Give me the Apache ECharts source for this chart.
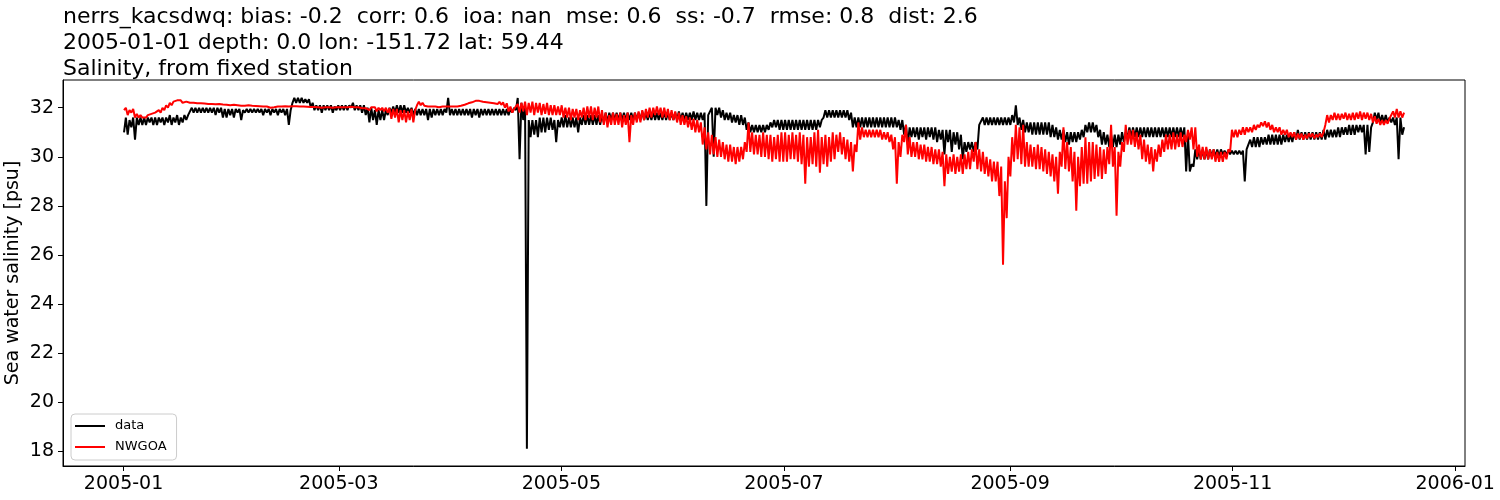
<!DOCTYPE html>
<html>
<head>
<meta charset="utf-8">
<script src="https://cdn.jsdelivr.net/npm/echarts@6/dist/echarts.min.js"></script>
<style>
html,body{margin:0;padding:0;background:#fff;}
#chart{width:1500px;height:500px;}
</style>
</head>
<body>
<div id="chart"></div>
<script>
// ---- data: per-sample-period [low, high] of each record ----
// samples are evenly spread between the first and last observation time
const firstTime = '2005-01-01T03:00:00Z';
const lastTime  = '2005-12-18T00:00:00Z';

const seriesNames = ['data', 'NWGOA'];

// observed salinity (black), daily low/high
const obsRange = [
[31.0,31.6],[30.9,31.5],[31.2,31.6],[30.7,31.6],[31.3,31.6],[31.3,31.6],[31.3,31.6],[31.4,31.6],[31.3,31.6],[31.3,31.6],
[31.4,31.6],[31.3,31.6],[31.4,31.7],[31.3,31.6],[31.4,31.7],[31.3,31.6],[31.4,31.7],[31.5,31.7],[31.7,32.0],[31.8,32.0],
[31.8,32.0],[31.8,32.0],[31.8,32.0],[31.8,32.0],[31.8,32.0],[31.7,32.0],[31.8,32.0],[31.6,31.95],[31.6,31.95],[31.7,31.95],
[31.6,31.95],[31.8,31.95],[31.5,31.9],[31.8,31.95],[31.8,31.95],[31.8,31.95],[31.8,31.95],[31.8,31.95],[31.7,31.95],[31.8,31.95],
[31.7,31.95],[31.8,31.95],[31.7,31.95],[31.8,31.95],[31.7,31.95],[31.3,31.9],[32.2,32.4],[32.2,32.4],[32.2,32.4],[32.2,32.35],
[32.2,32.35],[32.0,32.2],[31.9,32.1],[31.9,32.1],[31.8,32.1],[31.9,32.1],[31.9,32.1],[31.8,32.05],[31.9,32.1],[31.9,32.1],
[31.9,32.1],[31.9,32.1],[32.0,32.2],[31.9,32.1],[31.9,32.1],[31.8,32.1],[31.7,32.0],[31.4,32.0],[31.5,31.9],[31.3,31.9],
[31.5,31.9],[31.5,31.9],[31.7,32.0],[31.8,32.05],[31.8,32.1],[31.8,32.1],[31.8,32.1],[31.8,32.0],[31.8,32.0],[31.7,31.95],
[31.7,31.95],[31.7,31.95],[31.7,31.95],[31.5,31.95],[31.6,31.95],[31.7,31.95],[31.7,31.95],[31.7,31.95],[31.8,32.4],[31.7,31.95],
[31.7,31.95],[31.7,31.95],[31.7,31.95],[31.7,31.95],[31.7,31.95],[31.6,31.95],[31.7,31.95],[31.6,31.95],[31.7,31.95],[31.7,31.95],
[31.7,31.95],[31.7,31.95],[31.7,31.95],[31.7,31.95],[31.7,31.95],[31.7,31.95],[31.8,32.0],[31.9,32.4],[29.9,32.2],[31.5,32.0],
[18.1,31.5],[30.8,31.5],[30.9,31.5],[30.8,31.6],[31.0,31.6],[31.0,31.6],[31.1,31.6],[31.1,31.5],[30.6,31.5],[31.2,31.6],
[31.2,31.7],[31.2,31.6],[31.2,31.6],[31.2,31.6],[31.0,31.6],[31.3,31.7],[31.3,31.7],[31.3,31.7],[31.3,31.7],[31.3,31.7],
[31.3,31.7],[31.4,31.8],[31.4,31.8],[31.5,31.8],[31.5,31.8],[31.5,31.8],[31.5,31.8],[31.5,31.8],[31.5,31.8],[31.5,31.8],
[31.5,31.8],[31.5,31.85],[31.5,31.8],[31.5,31.8],[31.5,31.85],[31.5,31.8],[31.5,31.8],[31.5,31.85],[31.5,31.8],[31.5,31.8],
[31.5,31.8],[31.5,31.85],[31.5,31.8],[31.5,31.8],[31.5,31.8],[31.5,31.85],[31.5,31.8],[31.5,31.8],[31.5,31.8],[28.0,31.7],
[31.7,32.0],[30.0,32.0],[31.7,32.0],[31.6,31.9],[31.5,31.8],[31.5,31.8],[31.4,31.7],[31.4,31.7],[31.3,31.7],[31.3,31.6],
[31.1,31.4],[31.0,31.3],[31.0,31.3],[31.0,31.3],[31.0,31.3],[31.0,31.3],[31.1,31.4],[31.2,31.5],[31.2,31.5],[31.1,31.5],
[31.1,31.5],[31.1,31.5],[31.1,31.5],[31.1,31.5],[31.1,31.5],[31.1,31.5],[31.1,31.5],[31.1,31.5],[31.1,31.5],[31.1,31.5],
[31.2,31.5],[31.6,31.9],[31.6,31.9],[31.6,31.9],[31.6,31.9],[31.6,31.9],[31.6,31.9],[31.6,31.9],[31.5,31.8],[31.2,31.6],
[31.2,31.6],[31.2,31.6],[31.2,31.6],[31.2,31.6],[31.2,31.6],[31.2,31.6],[31.2,31.6],[31.2,31.6],[31.2,31.6],[31.2,31.6],
[31.2,31.6],[31.2,31.5],[31.1,31.5],[30.9,31.3],[30.5,31.2],[30.8,31.2],[30.8,31.2],[30.7,31.2],[30.8,31.2],[30.7,31.2],
[30.8,31.2],[30.7,31.2],[30.6,31.1],[30.7,31.1],[30.1,31.1],[30.6,31.1],[30.2,31.0],[30.5,31.0],[30.3,30.9],[29.9,30.6],
[30.2,30.6],[30.3,30.6],[30.2,30.6],[30.3,31.3],[31.3,31.6],[31.3,31.6],[31.3,31.6],[31.3,31.6],[31.3,31.6],[31.3,31.6],
[31.3,31.6],[31.3,31.6],[31.3,31.7],[31.4,32.1],[31.3,31.6],[31.1,31.5],[31.0,31.4],[31.0,31.4],[30.9,31.4],[30.9,31.4],
[30.9,31.4],[30.9,31.4],[30.9,31.4],[30.8,31.3],[30.8,31.2],[30.7,31.1],[30.7,31.1],[30.6,31.0],[30.5,31.0],[30.6,31.0],
[30.6,31.0],[30.7,31.1],[30.8,31.3],[31.0,31.4],[31.0,31.4],[31.0,31.3],[30.8,31.1],[30.5,31.0],[30.5,30.9],[30.4,30.9],
[30.4,30.9],[30.4,30.9],[30.5,31.0],[30.6,31.0],[30.8,31.2],[30.8,31.2],[30.8,31.2],[30.8,31.2],[30.8,31.2],[30.8,31.2],
[30.8,31.2],[30.8,31.2],[30.8,31.2],[30.8,31.2],[30.8,31.2],[30.8,31.2],[30.8,31.2],[30.8,31.2],[30.8,31.2],[30.8,31.2],
[29.4,30.9],[29.4,29.7],[29.6,30.3],[29.9,30.3],[29.9,30.3],[29.9,30.3],[29.9,30.3],[30.0,30.3],[30.0,30.3],[30.0,30.3],
[30.1,30.25],[30.1,30.25],[30.1,30.25],[30.1,30.25],[30.1,30.25],[30.1,30.25],[29.0,30.3],[30.3,30.7],[30.4,30.8],[30.4,30.8],
[30.4,30.8],[30.5,30.8],[30.5,30.9],[30.5,30.9],[30.5,30.9],[30.5,30.9],[30.5,30.9],[30.6,30.9],[30.6,30.9],[30.6,31.0],
[30.7,31.1],[30.7,31.0],[30.7,31.0],[30.7,31.0],[30.7,31.0],[30.7,31.0],[30.7,31.0],[30.7,31.1],[30.7,31.1],[30.8,31.1],
[30.8,31.1],[30.8,31.2],[30.8,31.2],[30.9,31.2],[30.9,31.3],[30.9,31.3],[30.9,31.3],[31.0,31.3],[31.0,31.3],[30.1,31.3],
[30.2,31.2],[31.4,31.8],[31.5,31.8],[31.4,31.7],[31.4,31.7],[31.4,31.6],[31.4,31.6],[31.3,31.6],[29.9,31.6],[30.9,31.2]
];

// model salinity NWGOA (red), daily low/high
const modelRange = [
[31.9,32.0],[31.7,31.9],[31.8,31.95],[31.6,31.75],[31.6,31.7],[31.6,31.65],[31.6,31.7],[31.65,31.75],[31.7,31.8],[31.75,31.9],
[31.8,32.0],[31.9,32.1],[32.0,32.2],[32.1,32.25],[32.25,32.3],[32.25,32.3],[32.2,32.25],[32.25,32.3],[32.2,32.25],[32.2,32.25],
[32.18,32.22],[32.18,32.22],[32.17,32.21],[32.15,32.19],[32.15,32.2],[32.14,32.18],[32.15,32.19],[32.13,32.17],[32.12,32.16],[32.1,32.14],
[32.12,32.16],[32.1,32.14],[32.08,32.12],[32.08,32.12],[32.1,32.14],[32.08,32.12],[32.07,32.11],[32.06,32.1],[32.05,32.09],[32.05,32.09],
[32.0,32.05],[32.02,32.06],[32.05,32.09],[32.05,32.1],[32.06,32.1],[32.05,32.09],[32.06,32.1],[32.06,32.1],[32.05,32.09],[32.05,32.09],
[32.04,32.08],[32.03,32.07],[32.03,32.07],[32.02,32.06],[32.0,32.05],[32.02,32.06],[32.02,32.06],[32.0,32.04],[32.02,32.06],[32.02,32.06],
[32.02,32.06],[32.02,32.06],[32.04,32.08],[32.02,32.06],[32.02,32.06],[31.98,32.04],[31.98,32.04],[31.9,32.02],[31.95,32.02],[31.85,32.0],
[31.9,32.0],[31.85,32.0],[31.8,31.98],[31.55,31.95],[31.6,31.95],[31.4,31.9],[31.5,31.9],[31.4,31.85],[31.5,31.95],[31.4,31.9],
[32.1,32.25],[32.1,32.2],[32.08,32.15],[32.05,32.12],[32.05,32.12],[32.05,32.12],[32.02,32.1],[32.05,32.12],[32.05,32.12],[32.05,32.12],
[32.05,32.12],[32.05,32.12],[32.08,32.16],[32.12,32.2],[32.18,32.26],[32.22,32.3],[32.28,32.36],[32.28,32.36],[32.24,32.32],[32.22,32.3],
[32.2,32.28],[32.18,32.26],[32.15,32.24],[32.12,32.22],[32.0,32.18],[31.85,32.05],[31.8,31.95],[31.9,32.15],[31.8,32.2],[31.85,32.25],
[31.7,32.2],[31.8,32.25],[31.7,32.2],[31.8,32.2],[31.7,32.15],[31.75,32.2],[31.7,32.1],[31.7,32.1],[31.7,32.05],[31.7,32.1],
[31.6,32.0],[31.6,32.0],[31.5,31.95],[31.6,31.95],[31.5,31.9],[31.6,32.0],[31.5,32.05],[31.6,32.05],[31.5,32.0],[31.6,32.05],
[31.4,31.9],[31.3,31.8],[31.2,31.7],[31.3,31.8],[31.3,31.75],[31.3,31.8],[31.2,31.7],[31.3,31.8],[30.6,31.7],[31.3,31.8],
[31.4,31.85],[31.4,31.9],[31.5,31.95],[31.6,32.0],[31.6,32.0],[31.7,32.05],[31.7,32.0],[31.6,32.0],[31.6,31.95],[31.5,31.9],
[31.5,31.85],[31.4,31.8],[31.3,31.7],[31.3,31.65],[31.2,31.6],[31.1,31.55],[31.0,31.5],[31.0,31.4],[30.5,31.2],[30.3,31.0],
[30.1,30.9],[30.1,30.8],[30.0,30.7],[30.0,30.6],[29.9,30.5],[29.8,30.5],[29.8,30.4],[29.7,30.4],[29.8,30.4],[29.9,30.6],
[30.2,31.4],[30.2,31.0],[30.1,30.9],[30.1,30.9],[30.0,31.0],[30.0,30.9],[29.9,30.9],[29.8,30.8],[29.9,30.9],[29.8,31.0],
[29.8,31.0],[29.8,30.9],[29.9,31.0],[29.9,30.9],[29.8,31.0],[29.7,30.9],[28.9,30.8],[29.6,30.8],[29.7,31.0],[29.6,31.1],
[29.35,30.8],[29.7,30.9],[29.6,30.8],[29.8,31.0],[29.9,30.9],[30.2,31.0],[30.1,30.8],[29.9,30.7],[29.8,30.6],[29.4,30.5],
[30.2,31.4],[30.7,31.2],[30.8,31.1],[30.8,31.1],[30.8,31.1],[30.8,31.1],[30.8,31.1],[30.7,31.0],[30.7,31.0],[30.6,30.9],
[30.3,30.8],[28.9,30.6],[30.0,30.9],[30.6,31.3],[30.1,30.8],[30.0,30.6],[30.0,30.6],[29.9,30.5],[29.9,30.5],[29.8,30.4],
[29.8,30.4],[29.7,30.3],[29.7,30.3],[29.6,30.2],[28.8,30.1],[29.3,30.0],[29.4,30.1],[29.3,30.0],[29.4,30.1],[29.3,30.1],
[29.5,30.2],[29.5,30.3],[29.8,30.6],[29.5,30.3],[29.4,30.2],[29.3,30.0],[29.2,29.9],[29.0,29.8],[29.0,29.8],[28.4,29.6],
[25.6,29.0],[27.5,30.0],[29.2,30.8],[29.8,31.3],[29.9,31.2],[29.7,31.3],[29.6,30.6],[29.6,30.5],[29.6,30.4],[29.5,30.5],
[29.5,30.4],[29.4,30.3],[29.3,30.2],[29.2,30.1],[29.0,30.0],[28.5,30.2],[29.6,31.2],[29.5,30.6],[29.4,30.4],[29.0,30.2],
[27.8,30.0],[28.8,30.4],[28.9,30.8],[28.9,30.6],[29.0,30.6],[29.1,30.5],[29.2,30.4],[29.1,30.3],[29.3,30.4],[29.7,31.3],
[29.6,30.4],[27.6,30.2],[29.6,30.6],[30.2,31.3],[30.5,31.1],[30.5,31.1],[30.4,31.0],[30.3,30.9],[29.9,30.7],[29.8,30.5],
[29.7,30.4],[29.4,30.3],[29.8,30.5],[30.0,30.7],[30.2,30.9],[30.3,30.9],[30.3,31.0],[30.3,30.9],[30.4,31.0],[30.4,30.9],
[30.6,31.1],[30.7,31.2],[30.3,31.2],[30.0,30.5],[29.9,30.4],[29.9,30.4],[29.9,30.3],[29.9,30.3],[29.8,30.2],[29.8,30.2],
[29.8,30.2],[29.9,30.3],[30.2,31.1],[30.8,31.1],[30.8,31.1],[30.9,31.2],[30.9,31.2],[31.0,31.2],[31.0,31.3],[31.1,31.3],
[31.2,31.4],[31.25,31.45],[31.2,31.4],[31.1,31.3],[31.0,31.2],[31.0,31.2],[30.9,31.1],[30.9,31.1],[30.8,31.0],[30.8,31.0],
[30.7,30.95],[30.75,30.95],[30.7,30.9],[30.75,30.95],[30.8,30.95],[30.75,30.9],[30.8,30.95],[30.8,31.0],[31.3,31.7],[31.4,31.7],
[31.5,31.8],[31.5,31.75],[31.5,31.75],[31.55,31.8],[31.5,31.75],[31.5,31.8],[31.5,31.8],[31.55,31.85],[31.5,31.8],[31.55,31.8],
[31.5,31.75],[31.4,31.65],[31.35,31.55],[31.3,31.5],[31.3,31.5],[31.35,31.55],[31.5,31.85],[31.6,31.95],[31.6,31.85],[31.6,31.8]
];

const xTickLabels = ['2005-01','2005-03','2005-05','2005-07','2005-09','2005-11','2006-01'];
const yTickValues = [18,20,22,24,26,28,30,32];

const titleLines = [
  'nerrs_kacsdwq: bias: -0.2  corr: 0.6  ioa: nan  mse: 0.6  ss: -0.7  rmse: 0.8  dist: 2.6',
  '2005-01-01 depth: 0.0 lon: -151.72 lat: 59.44',
  'Salinity, from fixed station'
];
const yAxisName = 'Sea water salinity [psu]';

// ---- build ----
const DAY = 86400000;
const tFirst = Date.parse(firstTime);
const tLast = Date.parse(lastTime);
const t0 = Date.parse('2005-01-01T00:00:00Z');
// each period contributes its low, then its high half a period later
function toPairs(ranges){
  const n = ranges.length * 2;
  const dt = (tLast - tFirst) / (n - 1);
  const out = [];
  ranges.forEach((r,i)=>{ out.push([tFirst + (2*i)*dt, r[0]]); out.push([tFirst + (2*i+1)*dt, r[1]]); });
  return out;
}
const xTickValues = xTickLabels.map(s => Date.parse(s + '-01T00:00:00Z'));
const labelMap = {};
xTickValues.forEach((v,i)=>{ labelMap[v] = xTickLabels[i]; });

const FONT = 'DejaVu Sans';
const chart = echarts.init(document.getElementById('chart'), null, {renderer:'canvas'});
chart.setOption({
  animation: false,
  backgroundColor: '#fff',
  textStyle: {fontFamily: FONT},
  title: {
    text: titleLines.join('\n'),
    left: 63, top: 4, padding: 0,
    textStyle: {fontFamily: FONT, fontSize: 22, fontWeight: 'normal', color: '#000', lineHeight: 26}
  },
  grid: {left: 63, right: 35, top: 80, bottom: 34, show: true, borderColor: '#000', borderWidth: 1,
         backgroundColor: 'transparent', outerBoundsMode: 'none', containLabel: false},
  legend: {
    orient: 'vertical', left: 71, top: 414,
    data: seriesNames,
    icon: 'path://M0 0H30V2H0Z',
    itemWidth: 30, itemHeight: 2, itemGap: 7,
    backgroundColor: '#fff', borderColor: '#ccc', borderWidth: 1, borderRadius: 4,
    padding: [5, 10, 6, 4],
    textStyle: {fontFamily: FONT, fontSize: 13, color: '#000', lineHeight: 14, padding: [0,0,0,5]}
  },
  xAxis: {
    type: 'value',
    min: t0 - 16.6*DAY, max: t0 + 367.7*DAY,
    axisLine: {show: true, onZero: false, lineStyle: {color: '#000', width: 1}},
    axisTick: {show: true, customValues: xTickValues, length: 5, lineStyle: {color: '#000'}},
    axisLabel: {show: true, customValues: xTickValues, formatter: v => labelMap[v] || '', fontFamily: FONT, fontSize: 19, color: '#000', margin: 9},
    splitLine: {show: false}
  },
  yAxis: {
    type: 'value',
    min: 17.4, max: 33.13,
    name: yAxisName, nameLocation: 'middle', nameRotate: 90, nameGap: 40, nameMoveOverlap: false,
    nameTextStyle: {fontFamily: FONT, fontSize: 19, color: '#000'},
    axisLine: {show: true, onZero: false, lineStyle: {color: '#000', width: 1}},
    axisTick: {show: true, customValues: yTickValues, length: 5, lineStyle: {color: '#000'}},
    axisLabel: {show: true, customValues: yTickValues, formatter: v => String(v), fontFamily: FONT, fontSize: 19, color: '#000', margin: 9},
    splitLine: {show: false}
  },
  series: [
    {name: seriesNames[0], type: 'line', data: toPairs(obsRange), showSymbol: false, symbol: 'none',
     lineStyle: {color: '#000', width: 2}, itemStyle: {color: '#000'}, z: 2},
    {name: seriesNames[1], type: 'line', data: toPairs(modelRange), showSymbol: false, symbol: 'none',
     lineStyle: {color: '#ff0000', width: 2}, itemStyle: {color: '#ff0000'}, z: 3}
  ]
});
</script>
</body>
</html>
